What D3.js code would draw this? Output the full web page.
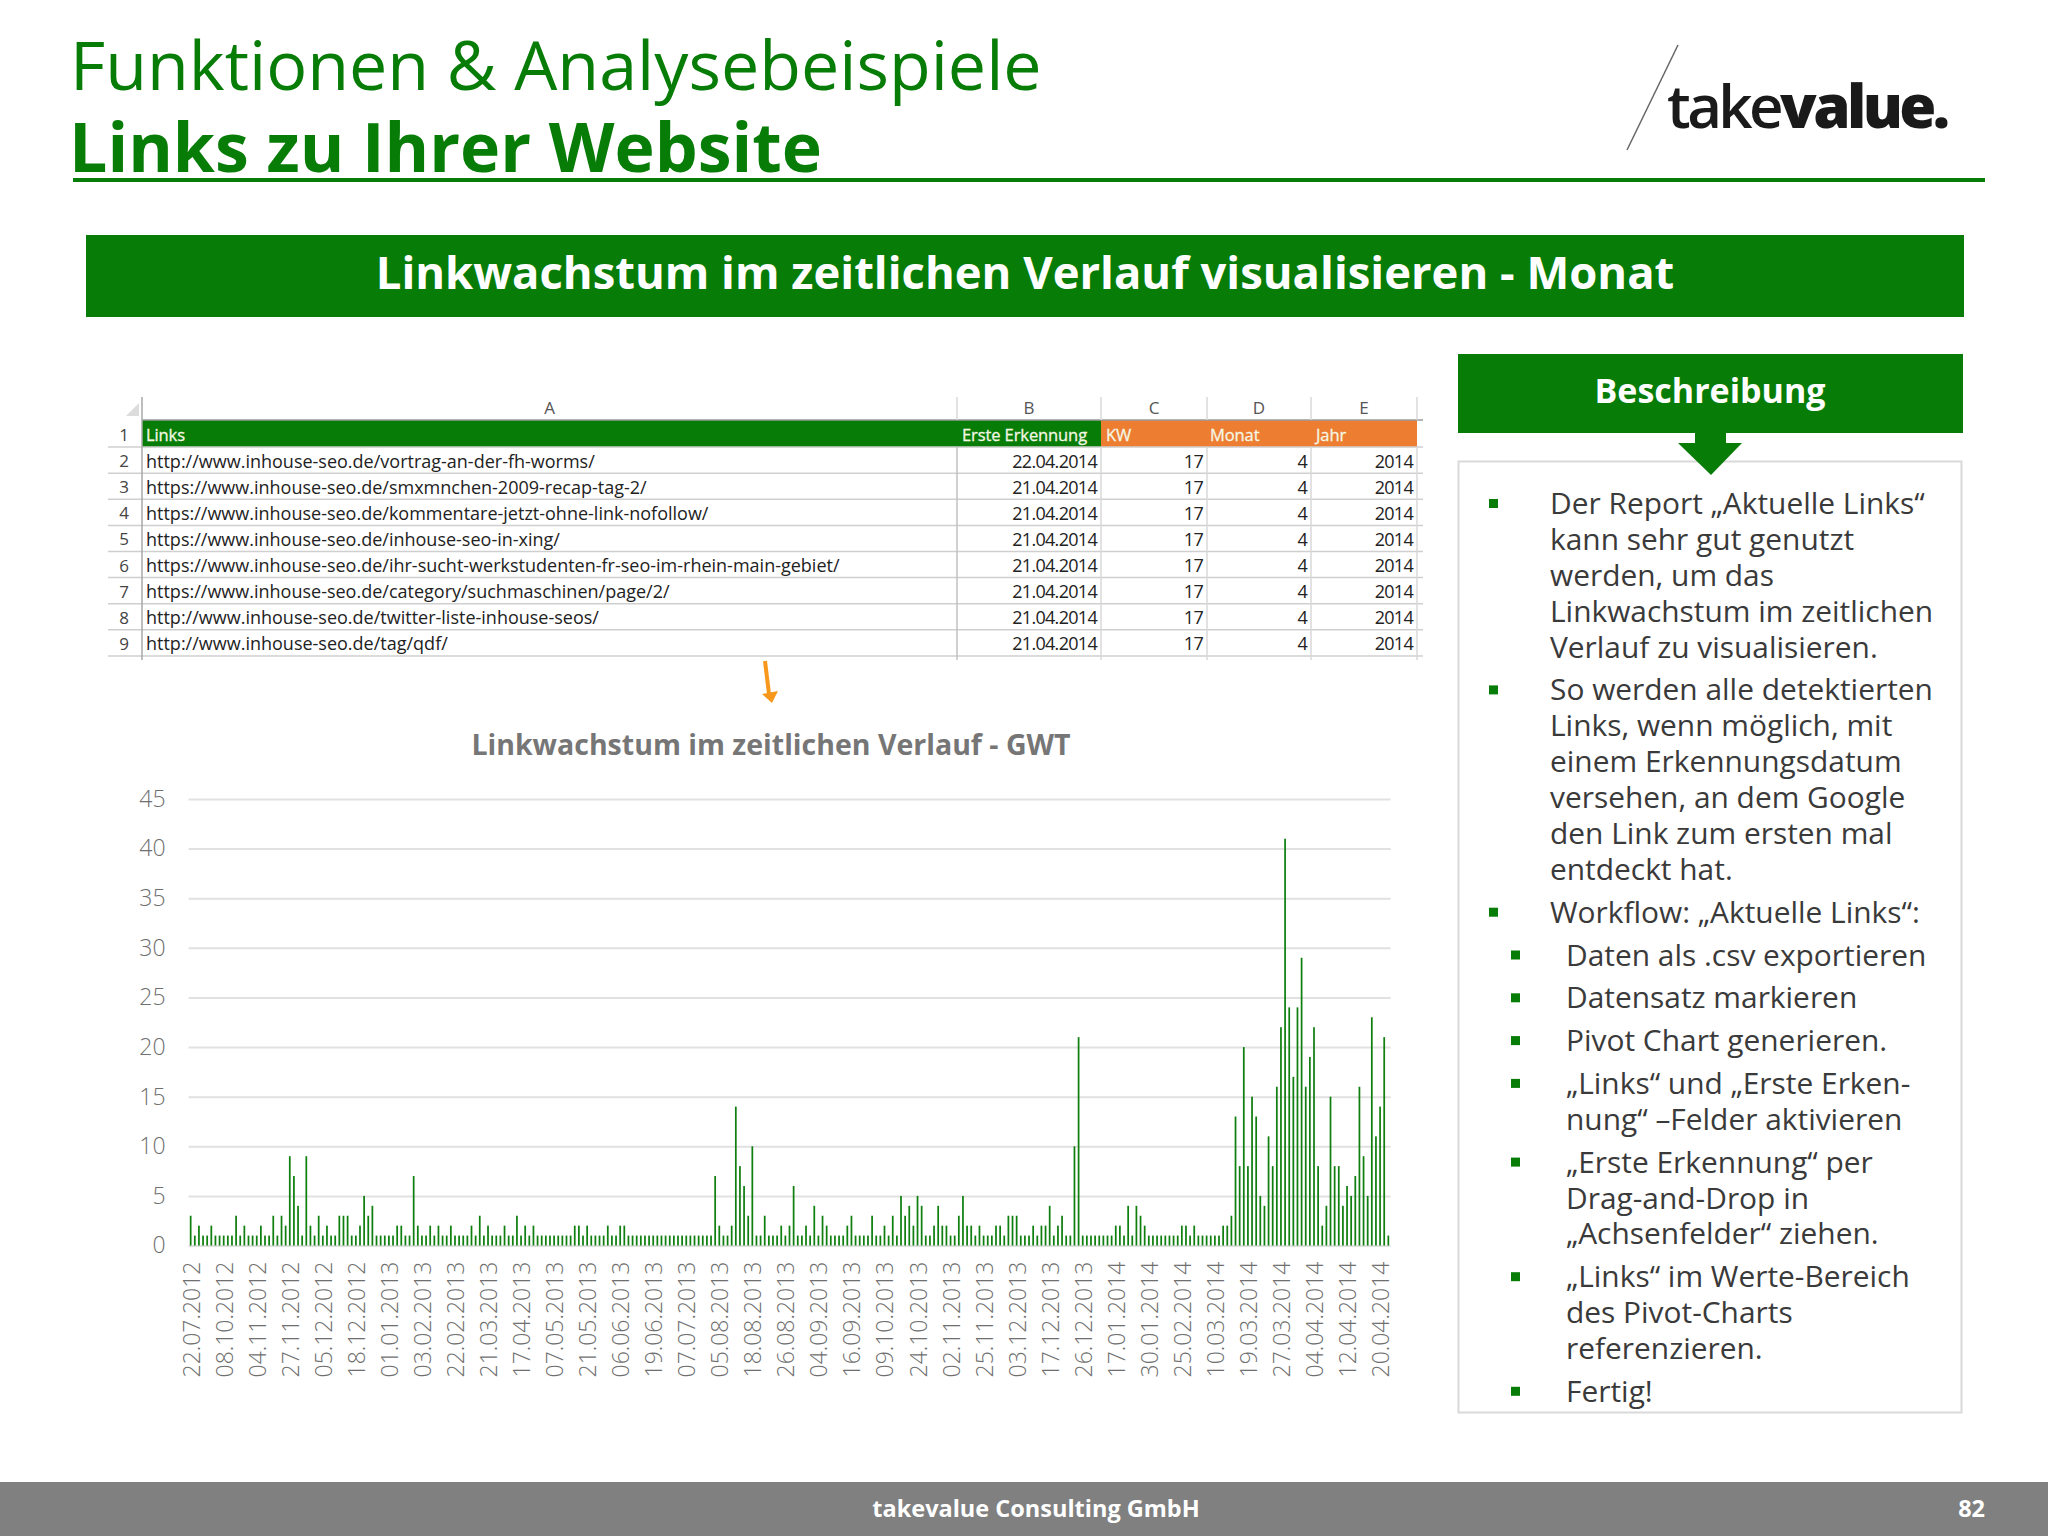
<!DOCTYPE html>
<html>
<head>
<meta charset="utf-8">
<title>Linkwachstum</title>
<script src="https://cdn.jsdelivr.net/npm/d3@7"></script>
<style>
    html, body { margin: 0; padding: 0; background: #fff; }
    svg { display: block; }
    text { font-family: "Open Sans", sans-serif; }
    .cell { font-family: "Liberation Sans Narrow", "Open Sans", sans-serif; }
</style>
</head>
<body>
<svg id="slide" width="2048" height="1536"></svg>
<script>
// Chart data
var linkCounts = [
    3,1,2,1,1,2,1,1,1,1, 1,3,1,2,1,1,1,2,1,1, 3,1,3,2,9,7,4,1,9,2, 1,3,1,2,1,1,3,3,3,1,
    1,2,5,3,4,1,1,1,1,1, 2,2,1,1,7,2,1,1,2,1, 2,1,1,2,1,1,1,1,2,1, 3,1,2,1,1,1,2,1,1,3,
    1,2,1,2,1,1,1,1,1,1, 1,1,1,2,2,1,2,1,1,1, 1,2,1,1,2,2,1,1,1,1, 1,1,1,1,1,1,1,1,1,1,
    1,1,1,1,1,1,1,7,2,1, 1,2,14,8,6,3,10,1,1,3, 1,1,1,2,1,2,6,1,1,2, 1,4,1,3,2,1,1,1,1,2,
    3,1,1,1,1,3,1,1,2,1, 3,1,5,3,4,2,5,4,1,1, 2,4,2,2,1,1,3,5,2,2, 1,2,1,1,1,2,2,1,3,3,
    3,1,1,1,2,1,2,2,4,1, 2,3,1,1,10,21,1,1,1,1, 1,1,1,1,2,2,1,4,1,4, 3,2,1,1,1,1,1,1,1,1,
    2,2,1,2,1,1,1,1,1,1, 2,2,3,13,8,20,8,15,13,5, 4,11,8,16,22,41,24,17,24,29,
    16,19,22,8,2,4,15,8,8,4, 6,5,7,16,9,5,23,11,14,21, 1
];
var dateLabels = [
    "22.07.2012","08.10.2012","04.11.2012","27.11.2012","05.12.2012","18.12.2012","01.01.2013",
    "03.02.2013","22.02.2013","21.03.2013","17.04.2013","07.05.2013","21.05.2013","06.06.2013",
    "19.06.2013","07.07.2013","05.08.2013","18.08.2013","26.08.2013","04.09.2013","16.09.2013",
    "09.10.2013","24.10.2013","02.11.2013","25.11.2013","03.12.2013","17.12.2013","26.12.2013",
    "17.01.2014","30.01.2014","25.02.2014","10.03.2014","19.03.2014","27.03.2014","04.04.2014",
    "12.04.2014","20.04.2014"
];
var yTicks = [0, 5, 10, 15, 20, 25, 30, 35, 40, 45];

// Spreadsheet data
var columnLetters = ["A", "B", "C", "D", "E"];
var headerCells = ["Links", "Erste Erkennung", "KW", "Monat", "Jahr"];
var sheetUrls = [
    "http://www.inhouse-seo.de/vortrag-an-der-fh-worms/",
    "https://www.inhouse-seo.de/smxmnchen-2009-recap-tag-2/",
    "https://www.inhouse-seo.de/kommentare-jetzt-ohne-link-nofollow/",
    "https://www.inhouse-seo.de/inhouse-seo-in-xing/",
    "https://www.inhouse-seo.de/ihr-sucht-werkstudenten-fr-seo-im-rhein-main-gebiet/",
    "https://www.inhouse-seo.de/category/suchmaschinen/page/2/",
    "http://www.inhouse-seo.de/twitter-liste-inhouse-seos/",
    "http://www.inhouse-seo.de/tag/qdf/"
];
var sheetDates = ["22.04.2014","21.04.2014","21.04.2014","21.04.2014","21.04.2014","21.04.2014","21.04.2014","21.04.2014"];
var sheetWeek = [17, 17, 17, 17, 17, 17, 17, 17];
var sheetMonth = [4, 4, 4, 4, 4, 4, 4, 4];
var sheetYear = [2014, 2014, 2014, 2014, 2014, 2014, 2014, 2014];

// Description panel
var panelItems = [
    { sub: false, lines: ["Der Report „Aktuelle Links“", "kann sehr gut genutzt", "werden, um das", "Linkwachstum im zeitlichen", "Verlauf zu visualisieren."] },
    { sub: false, lines: ["So werden alle detektierten", "Links, wenn möglich, mit", "einem Erkennungsdatum", "versehen, an dem Google", "den Link zum ersten mal", "entdeckt hat."] },
    { sub: false, lines: ["Workflow: „Aktuelle Links“:"] },
    { sub: true, lines: ["Daten als .csv exportieren"] },
    { sub: true, lines: ["Datensatz markieren"] },
    { sub: true, lines: ["Pivot Chart generieren."] },
    { sub: true, lines: ["„Links“ und „Erste Erken-", "nung“ –Felder aktivieren"] },
    { sub: true, lines: ["„Erste Erkennung“ per", "Drag-and-Drop in", "„Achsenfelder“ ziehen."] },
    { sub: true, lines: ["„Links“ im Werte-Bereich", "des Pivot-Charts", "referenzieren."] },
    { sub: true, lines: ["Fertig!"] }
];

var GREEN = "#077d07";
var svg = d3.select("#slide");

// slide header
svg.append("text").attr("x", 70).attr("y", 90)
    .attr("font-size", 68.2).attr("fill", GREEN)
    .text("Funktionen & Analysebeispiele");
svg.append("text").attr("x", 69).attr("y", 172)
    .attr("font-size", 68).attr("font-weight", 700).attr("fill", GREEN)
    .text("Links zu Ihrer Website");
svg.append("rect").attr("x", 73).attr("y", 178).attr("width", 1912).attr("height", 4).attr("fill", GREEN);

// logo
svg.append("line").attr("x1", 1678).attr("y1", 45).attr("x2", 1627).attr("y2", 150)
    .attr("stroke", "#666").attr("stroke-width", 1.5);
var logo = svg.append("text").attr("x", 1667).attr("y", 128)
    .attr("font-size", 60).attr("fill", "#1a1a1a").attr("letter-spacing", -3.6);
logo.append("tspan").attr("font-weight", 600).text("take");
logo.append("tspan").attr("font-weight", 800).text("value.");

// banner
svg.append("rect").attr("x", 86).attr("y", 235).attr("width", 1878).attr("height", 82).attr("fill", GREEN);
svg.append("text").attr("x", 1025).attr("y", 289).attr("text-anchor", "middle")
    .attr("font-size", 45.4).attr("font-weight", 700).attr("fill", "#fff")
    .text("Linkwachstum im zeitlichen Verlauf visualisieren - Monat");

// spreadsheet
var colEdges = [142, 957, 1101, 1207, 1311, 1417];
var sheetTop = 420, rowH = 26.1;
var sheet = svg.append("g");
var rowCount = sheetUrls.length;

sheet.append("path").attr("d", "M126 416L139 416L139 403Z").attr("fill", "#dcdcdc");
sheet.append("rect").attr("x", colEdges[0]).attr("y", sheetTop).attr("width", colEdges[2] - colEdges[0]).attr("height", rowH + 1).attr("fill", GREEN);
sheet.append("rect").attr("x", colEdges[2]).attr("y", sheetTop).attr("width", colEdges[5] - colEdges[2]).attr("height", rowH + 1).attr("fill", "#ed7d31");
sheet.append("line").attr("x1", 142).attr("y1", sheetTop).attr("x2", colEdges[5] + 6).attr("y2", sheetTop)
    .attr("stroke", "#9a9a9a").attr("stroke-width", 1.5);

d3.range(1, rowCount + 2).forEach(function(r) {
    sheet.append("line")
        .attr("x1", 108).attr("x2", colEdges[5] + 6)
        .attr("y1", sheetTop + r * rowH + 1).attr("y2", sheetTop + r * rowH + 1)
        .attr("stroke", "#cfcfcf").attr("stroke-width", 1.5);
});
colEdges.forEach(function(x, i) {
    sheet.append("line")
        .attr("x1", x).attr("x2", x)
        .attr("y1", 397).attr("y2", i == 0 ? 660 : 420)
        .attr("stroke", i == 0 ? "#a8a8a8" : "#d8d8d8").attr("stroke-width", 1.5);
    if (i == 0) return;
    sheet.append("line")
        .attr("x1", x).attr("x2", x)
        .attr("y1", sheetTop + rowH + 1).attr("y2", 660)
        .attr("stroke", i <= 1 ? "#c0c0c0" : "#d8d8d8").attr("stroke-width", 1.5);
});

columnLetters.forEach(function(letter, i) {
    sheet.append("text").attr("class", "cell")
        .attr("x", (colEdges[i] + colEdges[i + 1]) / 2).attr("y", 414)
        .attr("text-anchor", "middle").attr("font-size", 17).attr("fill", "#555")
        .text(letter);
});
var headerX = [146, 962, 1106, 1210, 1316];
headerCells.forEach(function(label, i) {
    sheet.append("text").attr("class", "cell")
        .attr("x", headerX[i]).attr("y", sheetTop + 21)
        .attr("font-size", 16.5).attr("letter-spacing", -0.1).attr("fill", "#f4f7e4")
        .attr("stroke", "#f4f7e4").attr("stroke-width", 0.3)
        .text(label);
});
d3.range(1, rowCount + 2).forEach(function(n, r) {
    sheet.append("text").attr("class", "cell")
        .attr("x", 124).attr("y", sheetTop + r * rowH + 21)
        .attr("text-anchor", "middle").attr("font-size", 17).attr("fill", "#444")
        .text(n);
});
sheetUrls.forEach(function(url, r) {
    var y = sheetTop + (r + 1) * rowH + 21.5;
    sheet.append("text").attr("class", "cell").attr("x", 146).attr("y", y)
        .attr("font-size", 18).attr("fill", "#222").text(url);
    [sheetDates[r], sheetWeek[r], sheetMonth[r], sheetYear[r]].forEach(function(val, c) {
        sheet.append("text").attr("class", "cell")
            .attr("x", colEdges[c + 2] - 4).attr("y", y)
            .attr("text-anchor", "end").attr("font-size", 18).attr("letter-spacing", -0.7).attr("fill", "#222")
            .text(val);
    });
});

// orange arrow between table and chart
svg.append("line").attr("x1", 765).attr("y1", 661).attr("x2", 769).attr("y2", 694)
    .attr("stroke", "#f7981d").attr("stroke-width", 4);
svg.append("path").attr("d", "M762 694L778 691L772 703Z").attr("fill", "#f7981d");

// chart
var x = d3.scaleBand()
    .domain(d3.range(linkCounts.length))
    .range([188.6, 1390.4])
    .paddingInner(0.58)
    .paddingOuter(0.29);
var y = d3.scaleLinear().domain([0, 45]).range([1245.5, 799]);

svg.append("text").attr("x", 771).attr("y", 755).attr("text-anchor", "middle")
    .attr("font-size", 28.5).attr("font-weight", 700).attr("fill", "#767676")
    .text("Linkwachstum im zeitlichen Verlauf - GWT");

var yAxis = svg.append("g")
    .attr("transform", "translate(188.6,0)")
    .call(d3.axisLeft(y).tickValues(yTicks).tickSize(-1202).tickPadding(23));
yAxis.select(".domain").remove();
yAxis.selectAll(".tick line").attr("stroke", "#e1e1e1").attr("stroke-width", 2);
yAxis.selectAll(".tick text").attr("font-size", 23).attr("font-weight", 300).attr("fill", "#6f6f6f");

svg.append("g").selectAll("rect")
    .data(linkCounts)
    .join("rect")
    .attr("x", (d, i) => x(i))
    .attr("y", d => y(d))
    .attr("width", x.bandwidth())
    .attr("height", d => y(0) - y(d))
    .attr("fill", "#0f7f0f");

var xAxis = svg.append("g")
    .attr("transform", "translate(0,1245.5)")
    .call(d3.axisBottom(x)
        .tickValues(dateLabels.map((d, i) => i * 8))
        .tickFormat(i => dateLabels[i / 8])
        .tickSize(0));
xAxis.select(".domain").remove();
xAxis.selectAll(".tick text")
    .attr("font-size", 23).attr("font-weight", 300).attr("fill", "#6f6f6f")
    .attr("text-anchor", "end")
    .attr("dy", null)
    .attr("y", 0)
    .attr("transform", "translate(0,16) rotate(-90)")
    .attr("dominant-baseline", "central");

// description panel
svg.append("rect").attr("x", 1458).attr("y", 354).attr("width", 505).attr("height", 79).attr("fill", GREEN);
svg.append("text").attr("x", 1710).attr("y", 403).attr("text-anchor", "middle")
    .attr("font-size", 34).attr("font-weight", 700).attr("fill", "#fff")
    .text("Beschreibung");
svg.append("rect").attr("x", 1458.5).attr("y", 461.5).attr("width", 503).attr("height", 951)
    .attr("fill", "none").attr("stroke", "#d9d9d9").attr("stroke-width", 2);
svg.append("path").attr("d", "M1695 433L1726 433L1726 443L1742 443L1711 475L1678 443L1695 443Z").attr("fill", GREEN);

var lineY = 514;
panelItems.forEach(function(item) {
    svg.append("rect")
        .attr("x", item.sub ? 1511 : 1489).attr("y", lineY - 15)
        .attr("width", 9).attr("height", 9).attr("fill", GREEN);
    item.lines.forEach(function(line, i) {
        svg.append("text")
            .attr("x", item.sub ? 1566 : 1550).attr("y", lineY + i * 35.9)
            .attr("font-size", 29.9).attr("fill", "#3a3a3a")
            .text(line);
    });
    lineY += (item.lines.length - 1) * 35.9 + 42.8;
});

// footer
svg.append("rect").attr("x", 0).attr("y", 1482).attr("width", 2048).attr("height", 54).attr("fill", "#808080");
svg.append("text").attr("x", 1036).attr("y", 1517).attr("text-anchor", "middle")
    .attr("font-size", 23.5).attr("font-weight", 700).attr("fill", "#fff")
    .text("takevalue Consulting GmbH");
svg.append("text").attr("x", 1985).attr("y", 1517).attr("text-anchor", "end")
    .attr("font-size", 23.5).attr("font-weight", 700).attr("fill", "#fff")
    .text("82");
</script>
</body>
</html>
